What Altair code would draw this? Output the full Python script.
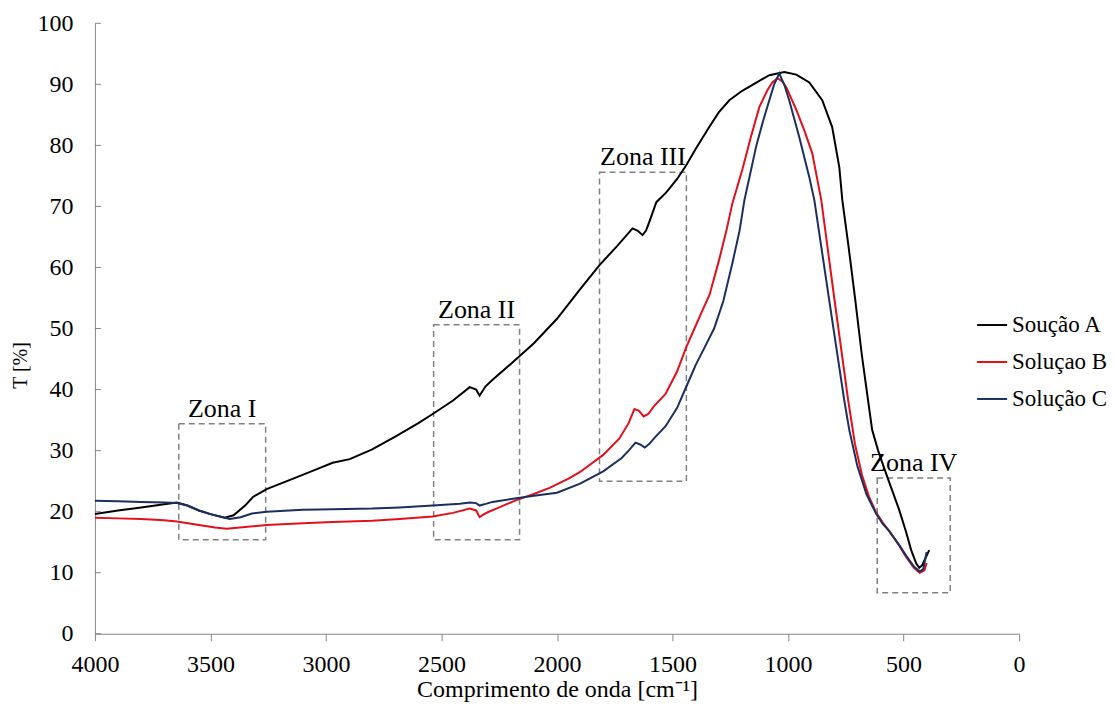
import altair as alt
import pandas as pd

# ---- Data ----
a_wn = [4000, 3900, 3800, 3700, 3645, 3600, 3550, 3500, 3438, 3400, 3350, 3316, 3257, 3150, 3050,
        2971, 2897, 2800, 2700, 2600, 2538, 2450, 2378, 2350, 2335, 2310, 2279, 2200, 2100, 2000,
        1903, 1816, 1740, 1673, 1650, 1630, 1615, 1600, 1570, 1527, 1480, 1440, 1400, 1341, 1300,
        1254, 1200, 1137, 1081, 1016, 964, 908, 852, 809, 778, 765, 740, 710, 680, 660, 636, 610,
        592, 560, 519, 490, 467, 445, 432, 420, 400, 389]
a_t = [19.6, 20.2, 20.7, 21.2, 21.5, 21.0, 20.2, 19.6, 19.0, 19.4, 21.0, 22.4, 23.7, 25.3, 26.8,
       28.0, 28.6, 30.2, 32.3, 34.5, 36.0, 38.2, 40.4, 40.0, 39.0, 40.5, 41.6, 44.2, 47.6, 51.6,
       56.3, 60.4, 63.5, 66.4, 66.0, 65.3, 66.0, 67.5, 70.7, 72.3, 74.5, 76.8, 79.4, 83.0, 85.4,
       87.4, 88.9, 90.3, 91.5, 92.0, 91.6, 90.3, 87.4, 83.0, 76.4, 71.0, 64.0, 55.0, 45.5, 40.0, 33.4, 30.0,
       28.0, 24.6, 20.3, 16.8, 13.7, 11.5, 10.8, 11.2, 12.8, 13.7]

b_wn = [4000, 3900, 3800, 3700, 3645, 3550, 3480, 3430, 3350, 3257, 3100, 2971, 2800, 2681, 2538,
        2450, 2378, 2350, 2335, 2315, 2300, 2250, 2176, 2100, 2032, 1950, 1900, 1800, 1730, 1690,
        1665, 1645, 1625, 1605, 1580, 1530, 1480, 1440, 1405, 1370, 1340, 1326, 1300, 1267, 1241,
        1198, 1160, 1124, 1090, 1068, 1046, 1025, 1007, 964, 930, 895, 856, 800, 740, 710, 680,
        650, 618, 590, 562, 520, 489, 455, 430, 410, 400]
b_t = [19.0, 18.9, 18.8, 18.6, 18.4, 17.8, 17.4, 17.2, 17.5, 17.8, 18.1, 18.3, 18.5, 18.8, 19.2,
       19.8, 20.5, 20.2, 19.1, 19.6, 19.9, 20.7, 21.9, 22.9, 23.9, 25.4, 26.5, 29.3, 32.0, 34.5,
       36.8, 36.5, 35.6, 36.0, 37.3, 39.3, 43.0, 47.0, 50.0, 53.0, 55.5, 57.4, 61.0, 66.0, 70.5,
       76.0, 81.5, 86.3, 89.0, 90.3, 91.0, 90.5, 89.5, 85.8, 82.5, 78.7, 71.0, 55.0, 38.3, 31.0, 26.0,
       22.5, 19.8, 18.2, 16.8, 14.5, 12.6, 10.8, 10.0, 10.4, 11.6]

c_wn = [4000, 3900, 3800, 3700, 3645, 3600, 3550, 3500, 3438, 3416, 3370, 3320, 3257, 3100, 2971,
        2800, 2681, 2538, 2420, 2378, 2350, 2335, 2315, 2279, 2176, 2100, 2000, 1900, 1800, 1720,
        1690, 1660, 1640, 1620, 1600, 1580, 1530, 1480, 1440, 1400, 1360, 1320, 1280, 1241, 1210,
        1189, 1160, 1137, 1108, 1081, 1060, 1038, 1015, 995, 951, 908, 886, 822, 757, 735, 700,
        660, 618, 590, 562, 520, 489, 455, 430, 415, 400]
c_t = [21.8, 21.7, 21.6, 21.5, 21.4, 21.0, 20.2, 19.6, 19.0, 18.8, 19.1, 19.7, 20.0, 20.3, 20.4,
       20.5, 20.7, 21.0, 21.3, 21.5, 21.4, 21.0, 21.2, 21.6, 22.2, 22.6, 23.1, 24.6, 26.6, 28.8,
       30.0, 31.3, 31.0, 30.5, 31.1, 32.0, 34.0, 37.0, 40.5, 44.0, 47.0, 50.0, 54.5, 60.7, 66.0,
       71.0, 76.0, 80.0, 84.0, 87.4, 90.0, 91.8, 89.8, 87.4, 81.3, 74.8, 71.0, 54.7, 38.3, 33.4, 27.5,
       22.8, 19.6, 18.0, 16.8, 14.6, 12.8, 11.0, 10.2, 10.6, 13.4]

series_names = ["Sou\u00e7\u00e3o A", "Solu\u00e7ao B", "Solu\u00e7\u00e3o C"]
series_colors = ["#000000", "#e3101b", "#1b2f5e"]

zone_names = ["Zona I", "Zona II", "Zona III", "Zona IV"]
zone_wn_hi = [3637, 2534, 1816, 614]
zone_wn_lo = [3261, 2162, 1440, 298]
zone_t_lo = [15.4, 15.4, 25.0, 6.7]
zone_t_hi = [34.4, 50.6, 75.6, 25.5]

x_ticks = list(range(0, 4001, 500))
y_ticks = list(range(0, 101, 10))

# ---- Tables ----
rows = []
for name, wns, ts in zip(series_names, [a_wn, b_wn, c_wn], [a_t, b_t, c_t]):
    for w, t in zip(wns, ts):
        rows.append({"serie": name, "wn": w, "t": t})
lines_df = pd.DataFrame(rows)

zones_df = pd.DataFrame({
    "zona": zone_names,
    "x1": zone_wn_hi,
    "x2": zone_wn_lo,
    "y1": zone_t_lo,
    "y2": zone_t_hi,
})
zones_df["xc"] = (zones_df["x1"] + zones_df["x2"]) / 2

yt_df = pd.DataFrame({"v": y_ticks})

FONT = "Liberation Serif"
GRAY = "#868686"

x_scale = alt.Scale(domain=[0, 4000], reverse=True, nice=False, zero=False)
y_scale = alt.Scale(domain=[0, 100], nice=False)

x_axis = alt.Axis(values=x_ticks, title="Comprimento de onda  [cm\u207b\u00b9]", grid=False,
                  tickSize=7, tickColor=GRAY, domainColor=GRAY, labelFont=FONT, labelFontSize=24,
                  labelColor="#000000", labelPadding=12, labelFlush=False, labelOverlap=False,
                  titleFont=FONT, titleFontSize=24, titleFontWeight="normal", titleColor="#000000",
                  titlePadding=1, format="d")
y_axis = alt.Axis(values=y_ticks, title="T [%]", grid=False, ticks=False, tickSize=0,
                  domainColor=GRAY, labelFont=FONT, labelFontSize=24, labelColor="#000000",
                  labelPadding=22, labelFlush=False, labelOverlap=False,
                  titleFont=FONT, titleFontSize=20, titleFontWeight="normal", titleColor="#000000",
                  titleX=-64, titleY=342)

lines = alt.Chart(lines_df).mark_line(strokeWidth=2).encode(
    x=alt.X("wn:Q", scale=x_scale, axis=x_axis),
    y=alt.Y("t:Q", scale=y_scale, axis=y_axis),
    color=alt.Color("serie:N",
                    scale=alt.Scale(domain=series_names, range=series_colors),
                    legend=alt.Legend(title=None, orient="none", legendX=882, legendY=286,
                                      symbolType="stroke", symbolSize=900, symbolStrokeWidth=2,
                                      labelFont=FONT, labelFontSize=23, labelColor="#000000",
                                      labelOffset=4, rowPadding=9, labelLimit=300)),
)

boxes = alt.Chart(zones_df).mark_rect(filled=False, stroke="#808080", strokeWidth=1.5,
                                      strokeDash=[6, 4]).encode(
    x=alt.X("x1:Q", scale=x_scale, axis=x_axis),
    x2="x2:Q",
    y=alt.Y("y1:Q", scale=y_scale, axis=y_axis),
    y2="y2:Q",
)

labels = alt.Chart(zones_df).mark_text(font=FONT, fontSize=26, baseline="alphabetic",
                                       align="center", dy=-7, color="#000000").encode(
    x=alt.X("xc:Q", scale=x_scale, axis=x_axis),
    y=alt.Y("y2:Q", scale=y_scale, axis=y_axis),
    text="zona:N",
)

yticks = alt.Chart(yt_df).mark_rule(color=GRAY, strokeWidth=1).encode(
    y=alt.Y("v:Q", scale=y_scale, axis=y_axis),
    x=alt.value(0),
    x2=alt.value(6),
)

chart = alt.layer(yticks, boxes, lines, labels).properties(
    width=925,
    height=611,
    autosize=alt.AutoSizeParams(type="none"),
    padding={"left": 87, "top": 15, "right": 88, "bottom": 73},
).configure(
    background="white", font=FONT
).configure_view(
    stroke=None
).configure_axis(
    labelFont=FONT, titleFont=FONT
).configure_legend(
    labelFont=FONT
).configure_text(
    font=FONT
)

chart.save("out.html", embed_options={"renderer": "svg", "actions": False})
